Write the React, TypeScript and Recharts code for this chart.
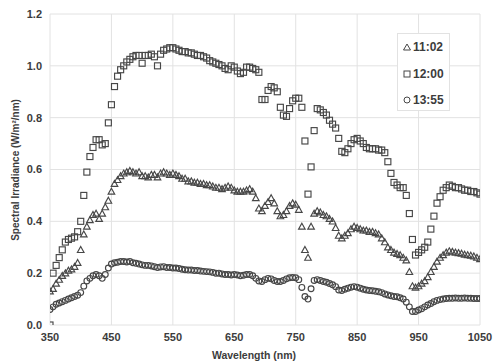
import React from "react";
import { ScatterChart, Scatter, XAxis, YAxis, CartesianGrid, Legend } from "recharts";

const wavelengths = [
  350, 355, 360, 365, 370, 375, 380, 385, 390, 395,
  400, 405, 410, 415, 420, 425, 430, 435, 440, 445,
  450, 455, 460, 465, 470, 475, 480, 485, 490, 495,
  500, 505, 510, 515, 520, 525, 530, 535, 540, 545,
  550, 555, 560, 565, 570, 575, 580, 585, 590, 595,
  600, 605, 610, 615, 620, 625, 630, 635, 640, 645,
  650, 655, 660, 665, 670, 675, 680, 685, 690, 695,
  700, 705, 710, 715, 720, 725, 730, 735, 740, 745,
  750, 755, 760, 765, 770, 775, 780, 785, 790, 795,
  800, 805, 810, 815, 820, 825, 830, 835, 840, 845,
  850, 855, 860, 865, 870, 875, 880, 885, 890, 895,
  900, 905, 910, 915, 920, 925, 930, 935, 940, 945,
  950, 955, 960, 965, 970, 975, 980, 985, 990, 995,
  1000, 1005, 1010, 1015, 1020, 1025, 1030, 1035, 1040, 1045,
  1050,
];

const irr1102 = [
  0.13, 0.14, 0.16, 0.175, 0.19, 0.2, 0.21, 0.215, 0.225, 0.24,
  0.29, 0.35, 0.38, 0.405, 0.425, 0.43, 0.41, 0.43, 0.455, 0.48,
  0.515, 0.545, 0.56, 0.575, 0.585, 0.59, 0.595, 0.59, 0.585, 0.59,
  0.575, 0.575, 0.57, 0.58, 0.58, 0.57, 0.585, 0.59, 0.585, 0.58,
  0.585, 0.58, 0.575, 0.565, 0.565, 0.555, 0.555, 0.55, 0.55, 0.545,
  0.545, 0.54, 0.54, 0.535, 0.53, 0.53, 0.525, 0.53, 0.535, 0.53,
  0.52, 0.515, 0.515, 0.515, 0.52, 0.525, 0.515, 0.49, 0.45, 0.44,
  0.46, 0.475, 0.49, 0.47, 0.44, 0.42, 0.425, 0.44, 0.46, 0.47,
  0.465, 0.445, 0.38, 0.29, 0.26, 0.38, 0.43, 0.44, 0.435, 0.425,
  0.42, 0.41, 0.4, 0.375, 0.345, 0.335, 0.345, 0.355, 0.37, 0.38,
  0.375, 0.37, 0.365, 0.365, 0.36, 0.36, 0.355, 0.35, 0.335, 0.32,
  0.3, 0.29, 0.28, 0.275, 0.27, 0.26, 0.25, 0.205, 0.15, 0.145,
  0.15, 0.16, 0.17, 0.185, 0.205, 0.225, 0.245, 0.26, 0.27, 0.28,
  0.285, 0.283, 0.28, 0.278, 0.276, 0.272, 0.27, 0.268, 0.265, 0.26,
  0.255,
];

const irr1200 = [
  0.0, 0.2, 0.23, 0.26, 0.29, 0.32, 0.33, 0.335, 0.34, 0.36,
  0.4, 0.5, 0.59, 0.65, 0.685, 0.715, 0.715, 0.695, 0.7, 0.78,
  0.85, 0.92, 0.96, 0.985, 1.0, 1.015, 1.025, 1.035, 1.04, 1.04,
  1.01, 1.04, 1.04, 1.045, 1.035, 1.0, 1.045, 1.06, 1.065, 1.07,
  1.07, 1.065, 1.06, 1.055, 1.055, 1.05, 1.05, 1.045, 1.04, 1.04,
  1.035, 1.03, 1.02, 1.015, 1.01, 1.005, 1.0, 0.99, 0.985, 1.0,
  0.995, 0.98, 0.97, 0.975, 0.995, 0.995, 0.99, 0.985, 0.975, 0.87,
  0.87, 0.905, 0.92, 0.915, 0.9, 0.84, 0.81, 0.805, 0.835, 0.865,
  0.875, 0.875, 0.84, 0.71, 0.505, 0.61, 0.75, 0.835, 0.83, 0.82,
  0.81, 0.79, 0.775, 0.76, 0.72, 0.67, 0.665, 0.68, 0.7, 0.715,
  0.72, 0.71, 0.7, 0.685, 0.68, 0.68, 0.68, 0.675, 0.675, 0.665,
  0.63, 0.585, 0.55, 0.54, 0.53, 0.53, 0.5, 0.43, 0.33, 0.27,
  0.28, 0.29, 0.3, 0.32, 0.37, 0.42, 0.47, 0.495, 0.52, 0.53,
  0.54, 0.535, 0.53, 0.53, 0.525, 0.52, 0.52, 0.515, 0.515, 0.51,
  0.505,
];

const irr1355 = [
  0.06, 0.07, 0.08, 0.085, 0.09, 0.095, 0.1, 0.105, 0.11, 0.115,
  0.125, 0.15, 0.17, 0.18, 0.19, 0.195, 0.19, 0.18, 0.195, 0.22,
  0.235, 0.24, 0.242, 0.245, 0.245, 0.243, 0.245, 0.24, 0.238, 0.235,
  0.232, 0.23, 0.23, 0.228, 0.225, 0.222, 0.224, 0.225, 0.222, 0.222,
  0.22, 0.22, 0.218, 0.215, 0.213, 0.212, 0.212, 0.21, 0.21, 0.208,
  0.207, 0.206, 0.205, 0.203, 0.2, 0.2, 0.197, 0.195, 0.195, 0.193,
  0.195, 0.193, 0.19, 0.192, 0.195, 0.195, 0.19, 0.18, 0.17, 0.168,
  0.175, 0.18, 0.178, 0.172, 0.168, 0.168, 0.172, 0.178, 0.182, 0.183,
  0.182, 0.175, 0.145, 0.11, 0.1, 0.14, 0.172, 0.175, 0.172, 0.168,
  0.165, 0.16, 0.155, 0.148, 0.135, 0.133, 0.138, 0.142, 0.146, 0.148,
  0.146, 0.142, 0.138, 0.135, 0.133, 0.132, 0.13, 0.128, 0.125, 0.12,
  0.116, 0.113, 0.11, 0.109, 0.105, 0.1, 0.088, 0.07, 0.052, 0.052,
  0.058, 0.063, 0.07, 0.077, 0.083, 0.09, 0.095, 0.098, 0.1, 0.102,
  0.103, 0.103, 0.104, 0.103, 0.103, 0.104, 0.103, 0.103, 0.102, 0.102,
  0.102,
];

const seriesNames = ["11:02", "12:00", "13:55"];
const xTicks = [350, 450, 550, 650, 750, 850, 950, 1050];
const yTicks = [0, 0.2, 0.4, 0.6, 0.8, 1.0, 1.2];

const toPoints = (vals: number[]) => wavelengths.map((w, i) => ({ wl: w, v: vals[i] }));
const data1102 = toPoints(irr1102);
const data1200 = toPoints(irr1200);
const data1355 = toPoints(irr1355);

const FONT = '"Liberation Sans", Arial, sans-serif';
const TEXT = "#3c3c3c";
const MARK = "#474747";
const SW = 1.15;

const Tri = (p: any) => {
  const { cx, cy } = p;
  if (cx == null || cy == null) return null;
  const s = 3.3;
  return (
    <path
      d={`M${cx},${cy - s} L${cx + s},${cy + s * 0.8} L${cx - s},${cy + s * 0.8} Z`}
      fill="none"
      stroke={MARK}
      strokeWidth={SW}
    />
  );
};
const Sq = (p: any) => {
  const { cx, cy } = p;
  if (cx == null || cy == null) return null;
  return <rect x={cx - 3} y={cy - 3} width={6} height={6} fill="none" stroke={MARK} strokeWidth={SW} />;
};
const Circ = (p: any) => {
  const { cx, cy } = p;
  if (cx == null || cy == null) return null;
  return <circle cx={cx} cy={cy} r={2.9} fill="none" stroke={MARK} strokeWidth={SW} />;
};

const legendIcons = [
  <path key="t" d="M4,1 L7.5,7 L0.5,7 Z" fill="none" stroke={MARK} strokeWidth={1} />,
  <rect key="s" x={1} y={1} width={6} height={6} fill="none" stroke={MARK} strokeWidth={1} />,
  <circle key="c" cx={4} cy={4} r={3} fill="none" stroke={MARK} strokeWidth={1} />,
];

const LegendBox = () => (
  <div
    style={{
      position: "relative",
      width: 53,
      height: 78,
      boxSizing: "border-box",
      border: "1px solid #e2e2e2",
      background: "#fff",
    }}
  >
    {seriesNames.map((n, i) => (
      <div
        key={n}
        style={{
          position: "absolute",
          left: 5,
          top: 6 + i * 26.5,
          height: 14,
          display: "flex",
          alignItems: "center",
          fontFamily: FONT,
          fontWeight: "bold",
          fontSize: 12,
          color: TEXT,
          whiteSpace: "nowrap",
        }}
      >
        <svg width={8} height={8} style={{ marginRight: 2 }}>
          {legendIcons[i]}
        </svg>
        {n}
      </div>
    ))}
  </div>
);

export default function App() {
  const tickStyle = { fontFamily: FONT, fontWeight: "bold", fontSize: 11, fill: TEXT };
  return (
    <div style={{ position: "absolute", left: 0, top: 0, width: 493, height: 362, background: "#fff" }}>
      <ScatterChart width={493} height={362} margin={{ top: 14, right: 13, bottom: 0, left: 0 }}>
        <CartesianGrid stroke="#e2e2e2" strokeWidth={1} />
        <XAxis
          type="number"
          dataKey="wl"
          domain={[350, 1050]}
          ticks={xTicks}
          allowDataOverflow
          height={37}
          tickLine={false}
          axisLine={false}
          tickSize={0}
          tickMargin={8}
          tick={tickStyle}
          label={{
            content: () => (
              <text x={254} y={359} textAnchor="middle" fontFamily={FONT} fontWeight="bold" fontSize={10.5} fill={TEXT}>
                Wavelength (nm)
              </text>
            ),
          }}
        />
        <YAxis
          type="number"
          dataKey="v"
          domain={[0, 1.2]}
          ticks={yTicks}
          allowDataOverflow
          width={50}
          tickLine={false}
          axisLine={false}
          tickSize={0}
          tickMargin={8}
          tick={tickStyle}
          tickFormatter={(v: number) => v.toFixed(1)}
          label={{
            content: () => (
              <text
                x={0}
                y={0}
                transform="translate(16,170) rotate(-90)"
                textAnchor="middle"
                dominantBaseline="middle"
                fontFamily={FONT}
                fontWeight="bold"
                fontSize={10}
                fill={TEXT}
              >
                Spectral Irradiance (W/m²/nm)
              </text>
            ),
          }}
        />
        <Legend
          layout="horizontal"
          verticalAlign="middle"
          align="center"
          wrapperStyle={{ left: 397, top: 33, width: 53, height: 78 }}
          content={() => <LegendBox />}
        />
        <Scatter name={seriesNames[0]} data={data1102} shape={Tri} isAnimationActive={false} />
        <Scatter name={seriesNames[1]} data={data1200} shape={Sq} isAnimationActive={false} />
        <Scatter name={seriesNames[2]} data={data1355} shape={Circ} isAnimationActive={false} />
      </ScatterChart>
    </div>
  );
}
